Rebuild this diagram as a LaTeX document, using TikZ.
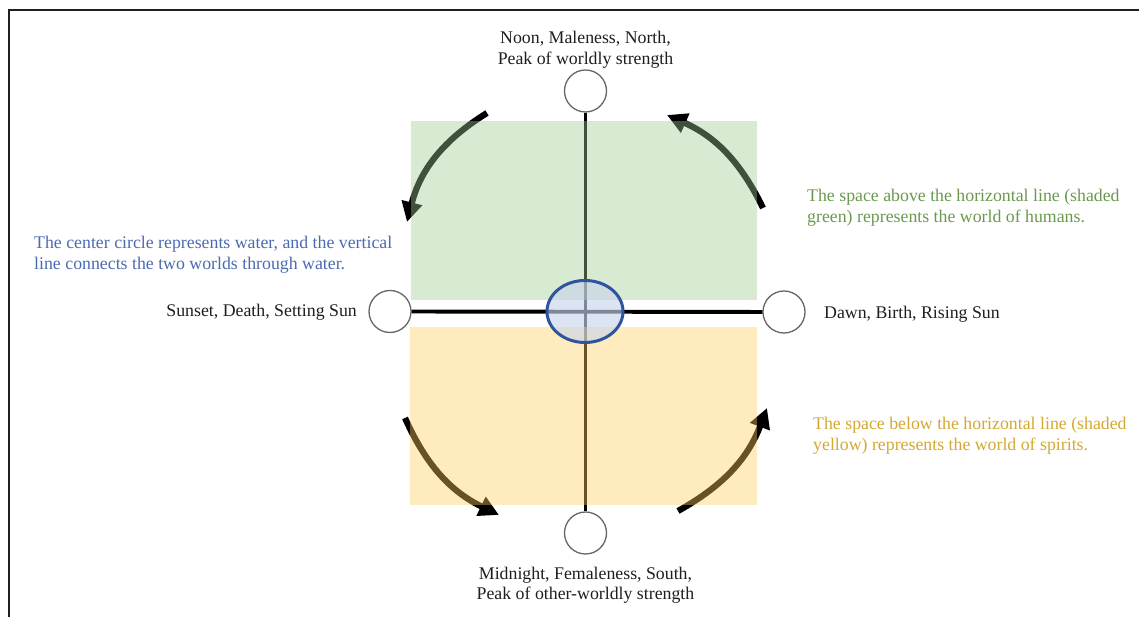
\documentclass[tikz,border=0pt]{standalone}
\usepackage{fontspec}
\setmainfont{Liberation Serif}
\usetikzlibrary{arrows.meta,shapes.geometric}
\definecolor{greenfill}{RGB}{160,202,145}
\definecolor{yellowfill}{RGB}{255,207,92}
\definecolor{waterfill}{RGB}{200,211,234}
\definecolor{waterline}{RGB}{46,84,160}
\definecolor{bluetext}{RGB}{75,106,178}
\definecolor{greentext}{RGB}{106,153,78}
\definecolor{goldtext}{RGB}{212,168,48}
\definecolor{textgray}{RGB}{30,30,30}
\begin{document}
\begin{tikzpicture}[x=1pt,y=1pt,
  frameline/.style={draw=black!88,line width=2.2pt},
  pole/.style={circle,draw=black!60,line width=1.3pt,fill=white,minimum size=42pt,inner sep=0pt},
  axis/.style={draw=black,line width=3.9pt},
  turn/.style={draw=black,line width=6.2pt,-{Triangle[length=20pt,width=20pt]}},
  shade/.style={fill opacity=0.4},
  lbl/.style={font=\fontsize{17.8}{20.5}\selectfont,inner sep=0pt,text=textgray},
  note/.style={font=\fontsize{17.8}{21.5}\selectfont,inner sep=0pt,align=left,anchor=west}]
\useasboundingbox (0,0) rectangle (1139,617);
\draw[frameline] (9,0) -- (9,607) -- (1139,607);
% pole circles
\node[pole] (N) at (585.5,526) {};
\node[pole] (S) at (585.5,84) {};
\node[pole] (W) at (390,305.5) {};
\node[pole] (E) at (784,305) {};
% axes
\draw[axis] (N) -- (S);
\draw[axis] (W) -- (E);
% turning arrows
\coordinate (tlA) at (487,504);
\coordinate (tlB) at (407,395);
\coordinate (trA) at (763,409);
\coordinate (trB) at (667,502);
\coordinate (blA) at (405,199);
\coordinate (blB) at (499,102);
\coordinate (brA) at (678,106);
\coordinate (brB) at (767,209);
\draw[turn] (tlA) to[bend right=22] (tlB);
\draw[turn] (trA) to[bend right=20] (trB);
\draw[turn] (blA) to[bend right=20] (blB);
\draw[turn] (brA) to[bend right=20] (brB);
% shaded worlds
\fill[greenfill,shade] (411,317) rectangle (757,496);
\fill[yellowfill,shade] (410,112) rectangle (757,290);
% water
\node[ellipse,draw=waterline,line width=3pt,fill=waterfill,fill opacity=0.64,
  minimum width=76pt,minimum height=62pt,inner sep=0pt] (C) at (585,305.5) {};
% labels
\node[lbl,align=center] (Nl) at (585.5,567) {Noon, Maleness, North,\\Peak of worldly strength};
\node[lbl,align=center] (Sl) at (585.5,32) {Midnight, Femaleness, South,\\Peak of other-worldly strength};
\node[lbl,anchor=east] (Wl) at (357,305) {Sunset, Death, Setting Sun};
\node[lbl,anchor=west] (El) at (824,303) {Dawn, Birth, Rising Sun};
\node[note,text=bluetext] (Cl) at (34,362) {The center circle represents water, and the vertical\\line connects the two worlds through water.};
\node[note,text=greentext] (Gl) at (807,409) {The space above the horizontal line (shaded\\green) represents the world of humans.};
\node[note,text=goldtext] (Yl) at (813,181) {The space below the horizontal line (shaded\\yellow) represents the world of spirits.};
\end{tikzpicture}
\end{document}
